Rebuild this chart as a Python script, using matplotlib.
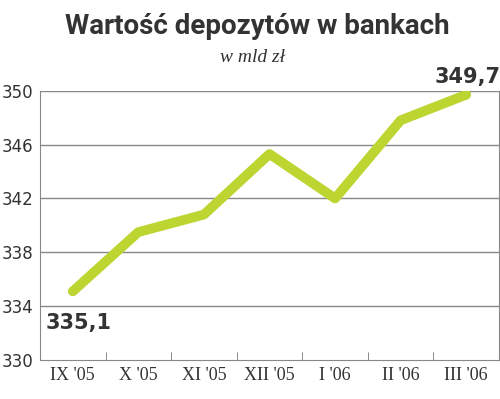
import matplotlib.pyplot as plt
import numpy as np

months = ["IX '05", "X '05", "XI '05", "XII '05", "I '06", "II '06", "III '06"]
deposits = [335.1, 339.5, 340.8, 345.3, 342.0, 347.8, 349.7]
y_ticks = [330, 334, 338, 342, 346, 350]

fig = plt.figure(figsize=(5, 3.99), dpi=100)
ax = fig.add_axes([0.08, 0.0977, 0.918, 0.675])

x = np.arange(len(months))
ax.plot(x, deposits, color='#bcd530', lw=7, solid_capstyle='round', zorder=3)

ax.set_xlim(-0.5, len(months) - 0.5)
ax.set_ylim(330, 350)
ax.set_yticks(y_ticks)
ax.set_yticklabels([str(v) for v in y_ticks], fontsize=12, family='DejaVu Sans', color='#333333')
ax.set_xticks(x)
ax.set_xticklabels(months, fontsize=13, family='Liberation Serif', color='#333333')
ax.tick_params(axis='both', length=0, pad=5)
ax.set_xticks(x[:-1] + 0.5, minor=True)
ax.tick_params(axis='x', which='minor', direction='in', length=6, color='#777777')

for yv in y_ticks[1:]:
    ax.axhline(yv, color='#888888', lw=1, zorder=1)
for s in ['left', 'bottom', 'right']:
    ax.spines[s].set_color('#888888')
ax.spines['top'].set_visible(False)

ax.annotate('335,1', (0, deposits[0]), xytext=(-27, -42), textcoords='offset pixels',
            fontsize=15, fontweight='bold', color='#333333', va='bottom')
ax.annotate('349,7', (6, deposits[-1]), xytext=(-32, 8), textcoords='offset pixels',
            fontsize=15, fontweight='bold', color='#333333', va='bottom')

fig.text(0.514, 0.933, 'Wartość depozytów w bankach', ha='center', va='center',
         fontsize=20, fontweight='bold', family='Roboto', color='#333333')
fig.text(0.505, 0.855, 'w mld zł', ha='center', va='center', fontsize=14,
         family='Liberation Serif', style='italic', color='#333333')

fig.savefig('out.png', dpi=100)
